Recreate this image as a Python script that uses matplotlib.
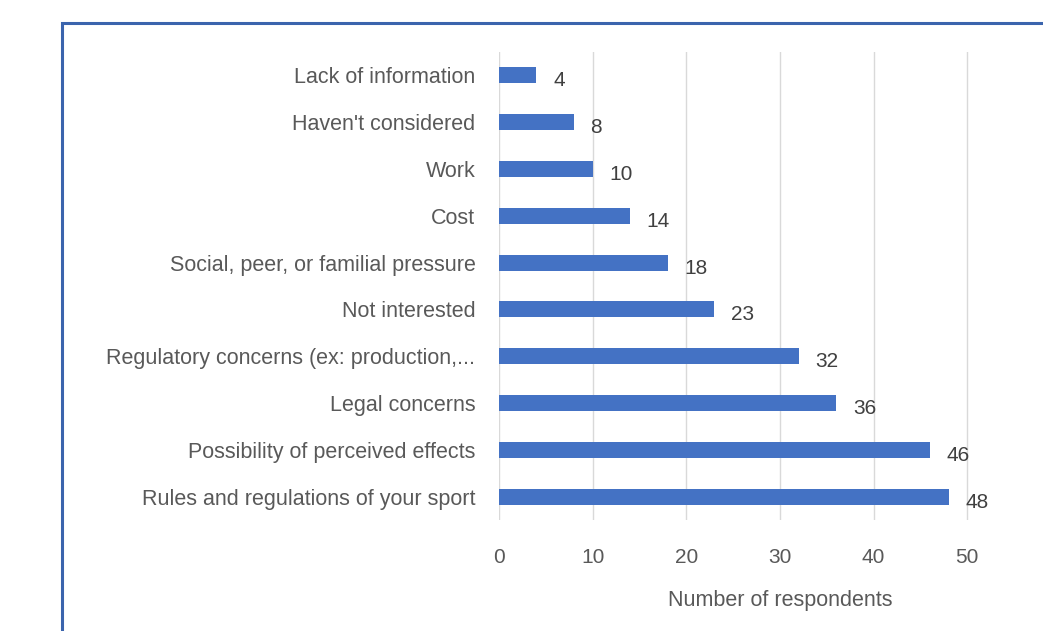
import matplotlib
matplotlib.use("Agg")
import matplotlib.pyplot as plt
from matplotlib.patches import Rectangle

categories = ["Rules and regulations of your sport",
              "Possibility of perceived effects",
              "Legal concerns",
              "Regulatory concerns (ex: production,...",
              "Not interested",
              "Social, peer, or familial pressure",
              "Cost",
              "Work",
              "Haven't considered",
              "Lack of information"]
values = [48, 46, 36, 32, 23, 18, 14, 10, 8, 4]
xticks = [0, 10, 20, 30, 40, 50]
xlabel = "Number of respondents"

plt.rcParams['font.family'] = ['Liberation Sans', 'DejaVu Sans']
W, H = 1043, 631
fig = plt.figure(figsize=(W/100, H/100), dpi=100)
fig.patch.set_facecolor('white')

# chart border (extends beyond the cropped figure)
fig.patches.append(Rectangle((62/W, -0.1), 1.2, 1 - 23/H + 0.1, transform=fig.transFigure,
                             fill=False, edgecolor='#3B64AD', linewidth=2.2, zorder=0))

ax = fig.add_axes([499/W, 1 - 520/H, (1061-499)/W, (520-52)/H])
ax.set_facecolor('none')
y = list(range(len(categories)))
ax.barh(y, values, height=0.34, color='#4472C4', zorder=3)
ax.set_xlim(0, 60)
ax.set_ylim(-0.5, len(categories) - 0.5)
ax.set_yticks(y)
ax.set_yticklabels(categories, fontsize=15.5, color='#595959')
ax.set_xticks(xticks)
ax.set_xticklabels([str(t) for t in xticks], fontsize=15, color='#595959')
ax.tick_params(axis='both', length=0)
ax.tick_params(axis='y', pad=17)
ax.tick_params(axis='x', pad=20)
for s in ax.spines.values():
    s.set_visible(False)
ax.grid(axis='x', color='#D9D9D9', linewidth=1, zorder=0)
ax.set_xlabel(xlabel, fontsize=15.5, color='#595959', labelpad=17)
for yi, v in zip(y, values):
    ax.annotate(str(v), (v, yi), xytext=(12, -4), textcoords='offset points',
                ha='left', va='center', fontsize=15, color='#404040')

fig.savefig("out.png", dpi=100)
